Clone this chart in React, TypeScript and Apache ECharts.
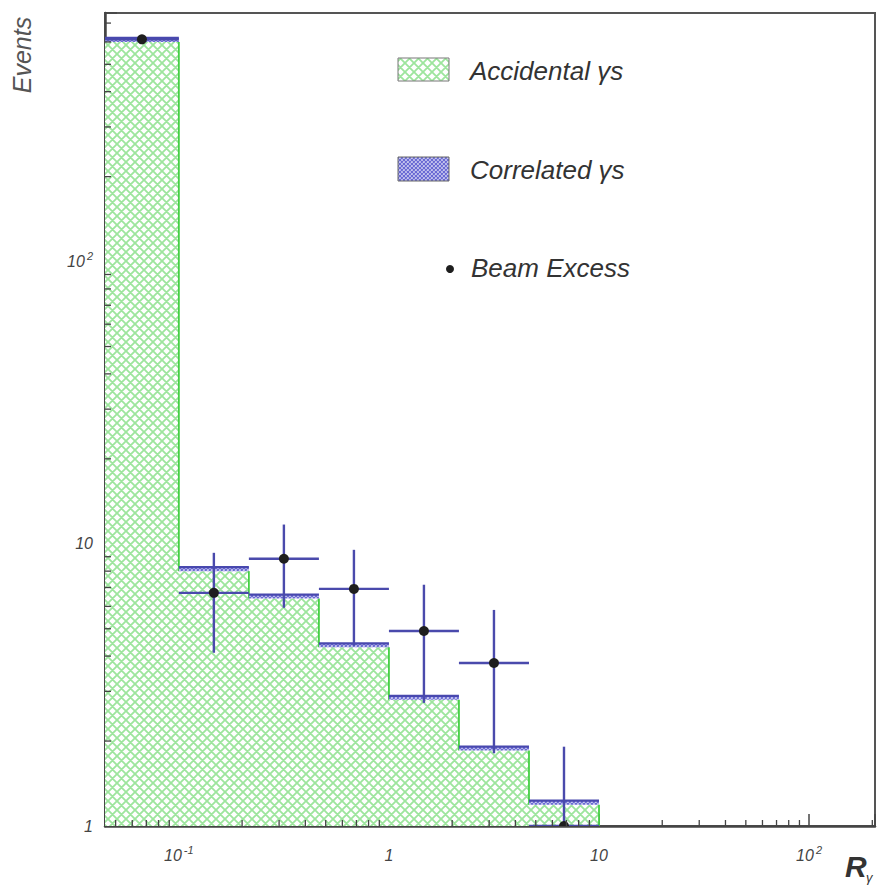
import React, { useEffect, useRef } from 'react';
import * as echarts from 'echarts';

// ---- data ----
const binEdges = [0.0445, 0.1, 0.2154, 0.4642, 1, 2.154, 4.642, 10];
const accidental = [600, 8.0, 6.4, 4.3, 2.8, 1.85, 1.19];
const correlated = [20, 0.27, 0.21, 0.14, 0.09, 0.06, 0.04];
const beamExcess = [613, 6.7, 8.85, 6.92, 4.91, 3.78, 1.0];
const beamErrLow = [600, 4.11, 5.93, 4.35, 2.73, 1.81, 0.3];
const beamErrHigh = [626, 9.29, 11.7, 9.52, 7.16, 5.83, 1.91];

const xTickValues = [0.1, 1, 10, 100];
const xTickBase = ['10', '1', '10', '10'];
const xTickExp = ['-1', '', '', '2'];
const yTickValues = [1, 10, 100];
const yTickBase = ['1', '10', '10'];
const yTickExp = ['', '', '2'];
const minorMultipliers = [2, 3, 4, 5, 6, 7, 8, 9];
const xDecades = [0.01, 0.1, 1, 10, 100];
const yDecades = [1, 10, 100];

const X_MIN = 0.0445;
const X_MAX = 206;
const Y_MIN = 1;
const Y_MAX = 760;

const FONT = 'Liberation Sans, Arial, sans-serif';

function svgTile(stroke: string, size: number, w: number) {
  const s = size;
  const svg = `<svg xmlns='http://www.w3.org/2000/svg' width='${s}' height='${s}'><rect width='${s}' height='${s}' fill='white'/><path d='M0,0L${s},${s}M${s},0L0,${s}M-1,${s - 1}L1,${s + 1}M${s - 1},-1L${s + 1},1' stroke='${stroke}' stroke-width='${w}' fill='none'/></svg>`;
  return 'data:image/svg+xml;charset=utf-8,' + encodeURIComponent(svg);
}

const greenPattern: any = {
  image: svgTile('#9de59d', 9, 1.8),
  repeat: 'repeat',
  imageWidth: 9,
  imageHeight: 9,
};
const bluePattern: any = {
  image: svgTile('#6a6ad4', 4, 1.4),
  repeat: 'repeat',
  imageWidth: 4,
  imageHeight: 4,
};

function labelFor(values: number[], base: string[], exp: string[], v: number) {
  for (let i = 0; i < values.length; i++) {
    if (Math.abs(Math.log10(v) - Math.log10(values[i])) < 1e-6) {
      return exp[i] ? `{b|${base[i]}}{s|${exp[i]}}` : `{b|${base[i]}}`;
    }
  }
  return '';
}

const richLabel = {
  b: { fontSize: 16, lineHeight: 22, fontStyle: 'italic', fontFamily: FONT, color: '#444' },
  s: { fontSize: 11, lineHeight: 12, verticalAlign: 'top', fontStyle: 'italic', fontFamily: FONT, color: '#444', padding: [0, 0, 0, 2] },
};

export default function App() {
  const ref = useRef<HTMLDivElement>(null);

  useEffect(() => {
    if (!ref.current) return;
    const chart = echarts.init(ref.current, null, { renderer: 'svg' });

    const accData = accidental.map((v, i) => [
      binEdges[i],
      binEdges[i + 1],
      v,
      i + 1 < accidental.length ? accidental[i + 1] : Y_MIN,
    ]);
    const corrData = correlated.map((v, i) => [binEdges[i], binEdges[i + 1], accidental[i] + v, accidental[i]]);
    const beamData = beamExcess.map((v, i) => [binEdges[i], binEdges[i + 1], v, beamErrLow[i], beamErrHigh[i]]);

    const xMinor: number[][] = [];
    xDecades.forEach((d) =>
      minorMultipliers.forEach((m) => {
        const v = d * m;
        if (v > X_MIN && v < X_MAX) xMinor.push([v, Y_MIN]);
      })
    );
    const yMinor: number[][] = [];
    yDecades.forEach((d) =>
      minorMultipliers.forEach((m) => {
        const v = d * m;
        if (v > Y_MIN && v < Y_MAX) yMinor.push([X_MIN, v]);
      })
    );

    const clampY = (v: number) => Math.max(Y_MIN, Math.min(Y_MAX, v));

    const option: any = {
      animation: false,
      grid: {
        left: 105,
        top: 13,
        right: 2,
        bottom: 62,
        show: true,
        borderColor: '#555',
        borderWidth: 2,
        backgroundColor: 'transparent',
      },
      xAxis: {
        type: 'log',
        logBase: 10,
        min: X_MIN,
        max: X_MAX,
        axisLine: { show: true, lineStyle: { color: '#444', width: 2.5 } },
        axisTick: { show: true, inside: true, length: 12, lineStyle: { color: '#444', width: 1.5 } },
        splitLine: { show: false },
        minorTick: { show: false },
        axisLabel: {
          margin: 18,
          fontSize: 16,
          fontStyle: 'italic',
          fontFamily: FONT,
          color: '#444',
          rich: richLabel,
          formatter: (v: number) => labelFor(xTickValues, xTickBase, xTickExp, v),
        },
      },
      yAxis: {
        type: 'log',
        logBase: 10,
        min: Y_MIN,
        max: Y_MAX,
        axisLine: { show: true, lineStyle: { color: '#444', width: 2.5 } },
        axisTick: { show: true, inside: true, length: 12, lineStyle: { color: '#444', width: 1.5 } },
        splitLine: { show: false },
        minorTick: { show: false },
        axisLabel: {
          margin: 12,
          fontSize: 16,
          fontStyle: 'italic',
          fontFamily: FONT,
          color: '#444',
          rich: richLabel,
          formatter: (v: number) => labelFor(yTickValues, yTickBase, yTickExp, v),
        },
      },
      series: [
        {
          name: 'Accidental γs',
          type: 'custom',
          clip: true,
          encode: { x: [0, 1], y: 2 },
          data: accData,
          renderItem: (params: any, api: any) => {
            const lo = api.value(0);
            const hi = api.value(1);
            const v = api.value(2);
            const next = api.value(3);
            const pTop = api.coord([lo, v]);
            const pBot = api.coord([hi, Y_MIN]);
            const pNext = api.coord([hi, next]);
            return {
              type: 'group',
              children: [
                {
                  type: 'rect',
                  shape: { x: pTop[0], y: pTop[1], width: pBot[0] - pTop[0], height: pBot[1] - pTop[1] },
                  style: { fill: greenPattern },
                },
                {
                  type: 'line',
                  shape: { x1: pBot[0], y1: pTop[1], x2: pBot[0], y2: pNext[1] },
                  style: { stroke: '#45d045', lineWidth: 1.8 },
                },
              ],
            };
          },
        },
        {
          name: 'Correlated γs',
          type: 'custom',
          clip: true,
          encode: { x: [0, 1], y: 2 },
          data: corrData,
          renderItem: (params: any, api: any) => {
            const lo = api.value(0);
            const hi = api.value(1);
            const top = api.value(2);
            const base = api.value(3);
            const a = api.coord([lo, top]);
            const b = api.coord([hi, base]);
            return {
              type: 'group',
              children: [
                {
                  type: 'rect',
                  shape: { x: a[0], y: a[1], width: b[0] - a[0], height: Math.max(1, b[1] - a[1]) },
                  style: { fill: bluePattern },
                },
                {
                  type: 'line',
                  shape: { x1: a[0], y1: a[1], x2: b[0], y2: a[1] },
                  style: { stroke: '#4848ae', lineWidth: 2.2 },
                },
              ],
            };
          },
        },
        {
          name: 'Beam Excess',
          type: 'custom',
          clip: true,
          z: 5,
          encode: { x: [0, 1], y: [2, 3, 4] },
          data: beamData,
          renderItem: (params: any, api: any) => {
            const lo = api.value(0);
            const hi = api.value(1);
            const v = clampY(api.value(2));
            const eLo = clampY(api.value(3));
            const eHi = clampY(api.value(4));
            const xc = Math.sqrt(lo * hi);
            const pl = api.coord([lo, v]);
            const pr = api.coord([hi, v]);
            const pc = api.coord([xc, v]);
            const pLo = api.coord([xc, eLo]);
            const pHi = api.coord([xc, eHi]);
            return {
              type: 'group',
              children: [
                {
                  type: 'line',
                  shape: { x1: pl[0], y1: pl[1], x2: pr[0], y2: pr[1] },
                  style: { stroke: '#4a4aac', lineWidth: 2.4 },
                },
                {
                  type: 'line',
                  shape: { x1: pc[0], y1: pHi[1], x2: pc[0], y2: pLo[1] },
                  style: { stroke: '#4a4aac', lineWidth: 2.4 },
                },
                {
                  type: 'circle',
                  shape: { cx: pc[0], cy: pc[1], r: 5 },
                  style: { fill: '#1e1e1e' },
                },
              ],
            };
          },
        },
        {
          name: 'xMinorTicks',
          type: 'custom',
          silent: true,
          z: 6,
          encode: { x: 0, y: 1 },
          data: xMinor,
          renderItem: (params: any, api: any) => {
            const p = api.coord([api.value(0), Y_MIN]);
            return {
              type: 'line',
              shape: { x1: p[0], y1: p[1], x2: p[0], y2: p[1] - 6 },
              style: { stroke: '#444', lineWidth: 1.3 },
            };
          },
        },
        {
          name: 'yMinorTicks',
          type: 'custom',
          silent: true,
          z: 6,
          encode: { x: 0, y: 1 },
          data: yMinor,
          renderItem: (params: any, api: any) => {
            const p = api.coord([X_MIN, api.value(1)]);
            return {
              type: 'line',
              shape: { x1: p[0], y1: p[1], x2: p[0] + 6, y2: p[1] },
              style: { stroke: '#444', lineWidth: 1.3 },
            };
          },
        },
      ],
      graphic: [
        {
          type: 'text',
          x: 22,
          y: 55,
          rotation: Math.PI / 2,
          style: {
            text: 'Events',
            fontSize: 25,
            fontStyle: 'italic',
            fontFamily: FONT,
            fill: '#555',
            align: 'center',
            verticalAlign: 'middle',
          },
        },
        {
          type: 'text',
          x: 845,
          y: 866,
          style: {
            text: 'R',
            fontSize: 30,
            fontWeight: 'bold',
            fontStyle: 'italic',
            fontFamily: FONT,
            fill: '#333',
            align: 'left',
            verticalAlign: 'middle',
          },
        },
        {
          type: 'text',
          x: 866,
          y: 877,
          style: {
            text: 'γ',
            fontSize: 13,
            fontStyle: 'italic',
            fontFamily: FONT,
            fill: '#333',
            align: 'left',
            verticalAlign: 'middle',
          },
        },
        // legend
        {
          type: 'rect',
          shape: { x: 398, y: 58, width: 51, height: 23 },
          style: { fill: greenPattern, stroke: '#777', lineWidth: 1 },
        },
        {
          type: 'text',
          x: 470,
          y: 71,
          style: {
            text: 'Accidental γs',
            fontSize: 26,
            fontStyle: 'italic',
            fontFamily: FONT,
            fill: '#333',
            align: 'left',
            verticalAlign: 'middle',
          },
        },
        {
          type: 'rect',
          shape: { x: 398, y: 157, width: 51, height: 24 },
          style: { fill: bluePattern, stroke: '#666', lineWidth: 1 },
        },
        {
          type: 'text',
          x: 470,
          y: 170,
          style: {
            text: 'Correlated γs',
            fontSize: 26,
            fontStyle: 'italic',
            fontFamily: FONT,
            fill: '#333',
            align: 'left',
            verticalAlign: 'middle',
          },
        },
        {
          type: 'circle',
          shape: { cx: 450, cy: 269, r: 4 },
          style: { fill: '#1e1e1e' },
        },
        {
          type: 'text',
          x: 471,
          y: 268,
          style: {
            text: 'Beam Excess',
            fontSize: 26,
            fontStyle: 'italic',
            fontFamily: FONT,
            fill: '#333',
            align: 'left',
            verticalAlign: 'middle',
          },
        },
      ],
    };

    chart.setOption(option);
    return () => {
      chart.dispose();
    };
  }, []);

  return (
    <div
      ref={ref}
      style={{ position: 'fixed', left: 0, top: 0, width: 878, height: 888, background: '#fff' }}
    />
  );
}
